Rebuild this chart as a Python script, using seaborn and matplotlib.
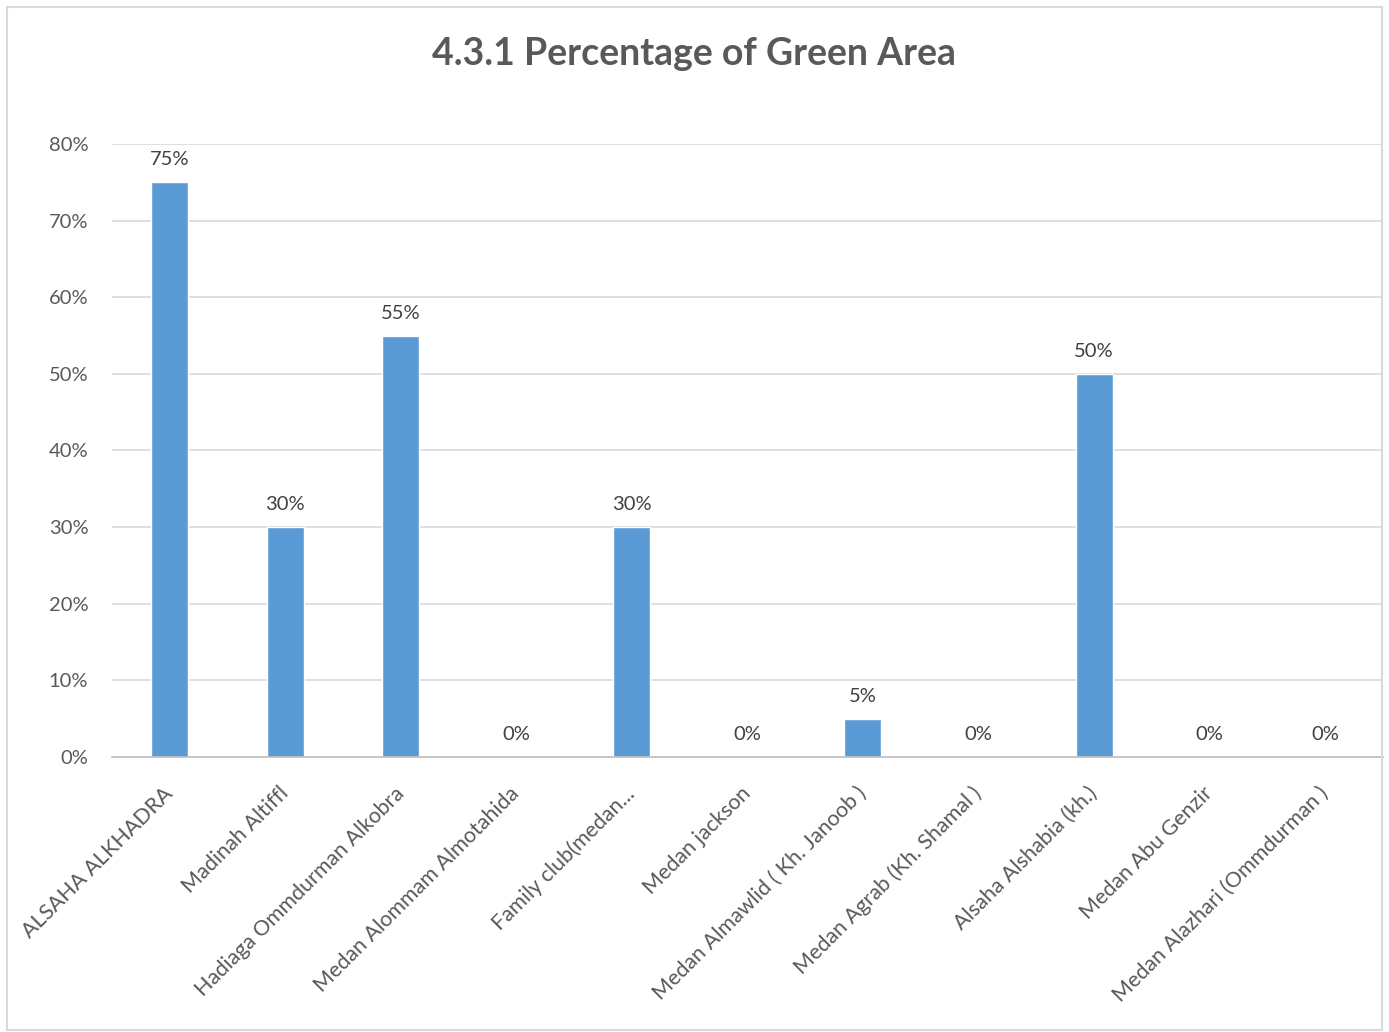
import matplotlib
matplotlib.use("Agg")
import matplotlib.pyplot as plt
import matplotlib.patches as mpatches
from matplotlib.ticker import FuncFormatter
import seaborn as sns
import pandas as pd

categories = [
    "ALSAHA ALKHADRA",
    "Madinah Altiffl",
    "Hadiaga Ommdurman Alkobra",
    "Medan Alommam Almotahida",
    "Family club(medan...",
    "Medan jackson",
    "Medan Almawlid ( Kh. Janoob )",
    "Medan Agrab (Kh. Shamal )",
    "Alsaha Alshabia (kh.)",
    "Medan Abu Genzir",
    "Medan Alazhari (Ommdurman )",
]
green_pct = [75, 30, 55, 0, 30, 0, 5, 0, 50, 0, 0]
y_ticks = [0, 10, 20, 30, 40, 50, 60, 70, 80]
title = "4.3.1 Percentage of Green Area"

df = pd.DataFrame({"site": categories, "pct": green_pct})

sns.set_theme(style="white")
plt.rcParams["font.family"] = ["Lato", "DejaVu Sans"]

text_gray = "#595959"
bar_blue = "#5B9BD5"

fig = plt.figure(figsize=(13.89, 10.32), dpi=100)
ax = fig.add_axes([0.0806, 0.2665, 0.915, 0.594])

sns.barplot(data=df, x="site", y="pct", color=bar_blue, width=0.32,
            saturation=1, ax=ax)

ax.set_ylim(0, 80)
ax.set_yticks(y_ticks)
ax.yaxis.set_major_formatter(FuncFormatter(lambda v, p: f"{v:.0f}%"))
ax.set_xlim(-0.5, len(categories) - 0.5)
ax.grid(axis="y", color="#d9d9d9", linewidth=1.2)
ax.set_axisbelow(True)
for s in ["top", "right", "left"]:
    ax.spines[s].set_visible(False)
ax.spines["bottom"].set_color("#bfbfbf")
ax.spines["bottom"].set_linewidth(1.2)
ax.set_xlabel("")
ax.set_ylabel("")
ax.tick_params(axis="both", length=0, colors=text_gray)
ax.tick_params(axis="y", pad=17, labelsize=14.5)
ax.tick_params(axis="x", pad=24, labelsize=15.5)
for lbl in ax.get_xticklabels():
    lbl.set_rotation(45)
    lbl.set_ha("right")
    lbl.set_va("center")
    lbl.set_rotation_mode("anchor")
    lbl.set_color(text_gray)

for i, v in enumerate(green_pct):
    ax.annotate(f"{v}%", (i, v), xytext=(0, 10), textcoords="offset points",
                ha="center", va="bottom", fontsize=14.5, color="#404040")

fig.text(0.5, 0.948, title, ha="center", va="center", fontsize=27,
         fontweight="bold", color=text_gray)

fig.patches.append(mpatches.Rectangle((0.005, 0.002), 0.99, 0.991,
                                      transform=fig.transFigure, fill=False,
                                      edgecolor="#d9d9d9", linewidth=1.5))

fig.savefig("out.png", dpi=100, facecolor="white")
